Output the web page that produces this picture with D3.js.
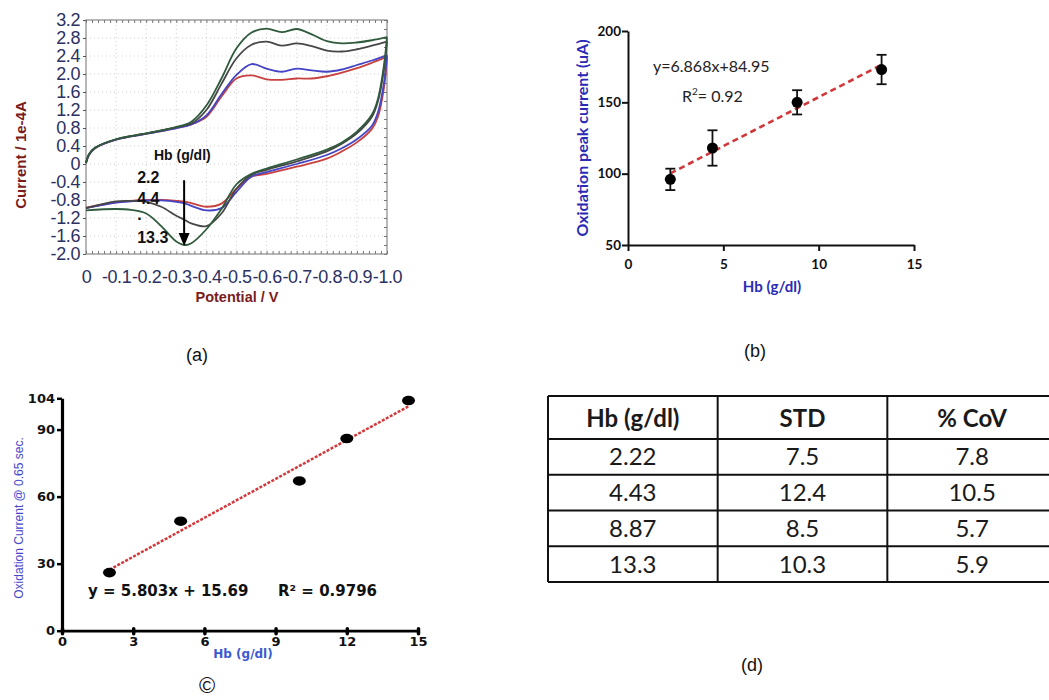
<html>
<script src='https://d3js.org/d3.v7.min.js'></script>
<style>
    body { margin: 0; background: white; }
    text { font-family: 'Liberation Sans', Arial, sans-serif; }
</style>

<body onload='init()'>
    <svg width=1049 height=700></svg>
    <script>
        // (a) cyclic voltammograms, potential in V, current in 1e-4 A
        const fwdPotential = [0, -0.01, -0.03, -0.1, -0.2, -0.3, -0.35, -0.4, -0.45, -0.5, -0.55, -0.6, -0.65, -0.7, -0.75, -0.8, -0.85, -0.9, -0.95, -1.0];
        const fwdRed = [0.02, 0.2, 0.35, 0.54, 0.67, 0.8, 0.88, 1.05, 1.5, 1.9, 1.97, 1.88, 1.87, 1.9, 1.9, 1.95, 2.03, 2.13, 2.25, 2.38];
        const fwdBlue = [0.02, 0.2, 0.35, 0.54, 0.67, 0.8, 0.88, 1.08, 1.55, 1.98, 2.22, 2.12, 2.05, 2.12, 2.08, 2.05, 2.1, 2.2, 2.3, 2.42];
        const fwdBlack = [0.02, 0.22, 0.36, 0.55, 0.68, 0.82, 0.9, 1.2, 1.78, 2.35, 2.65, 2.72, 2.63, 2.68, 2.62, 2.52, 2.5, 2.55, 2.63, 2.72];
        const fwdGreen = [0.02, 0.22, 0.36, 0.55, 0.68, 0.82, 0.94, 1.3, 1.9, 2.57, 2.92, 3.01, 2.93, 3.0, 2.88, 2.73, 2.68, 2.7, 2.75, 2.82];

        const revPotential = [-1.0, -0.99, -0.97, -0.95, -0.9, -0.85, -0.8, -0.7, -0.6, -0.55, -0.5, -0.45, -0.4, -0.35, -0.33, -0.3, -0.25, -0.2, -0.15, -0.1, 0];
        const revRed = [2.38, 1.7, 1.05, 0.78, 0.48, 0.28, 0.12, -0.06, -0.22, -0.28, -0.55, -0.88, -0.95, -0.87, -0.84, -0.82, -0.8, -0.8, -0.82, -0.85, -0.97];
        const revBlue = [2.42, 1.8, 1.15, 0.85, 0.55, 0.35, 0.2, 0.0, -0.18, -0.28, -0.62, -0.98, -1.03, -0.93, -0.88, -0.84, -0.81, -0.81, -0.83, -0.86, -0.98];
        const revBlack = [2.72, 2.1, 1.4, 1.05, 0.68, 0.45, 0.28, 0.06, -0.13, -0.24, -0.55, -1.1, -1.38, -1.32, -1.25, -1.15, -0.95, -0.84, -0.82, -0.83, -0.98];
        const revGreen = [2.82, 2.2, 1.45, 1.1, 0.72, 0.48, 0.32, 0.1, -0.1, -0.22, -0.45, -1.0, -1.45, -1.76, -1.8, -1.72, -1.38, -1.1, -1.02, -1.0, -1.03];

        const cvTicksY = [3.2, 2.8, 2.4, 2.0, 1.6, 1.2, 0.8, 0.4, 0, -0.4, -0.8, -1.2, -1.6, -2.0];
        const cvTicksX = [0, -0.1, -0.2, -0.3, -0.4, -0.5, -0.6, -0.7, -0.8, -0.9, -1.0];
        const cvLabels = ['2.2', '4.4', '.', '13.3'];

        // (b) oxidation peak current vs Hb
        const hbB = [2.22, 4.43, 8.87, 13.3];
        const peakB = [96, 118, 150, 173];
        const stdB = [7.5, 12.4, 8.5, 10.3];
        const fitB = [6.868, 84.95];

        // (c) oxidation current @ 0.65 s vs Hb
        const hbC = [2, 5, 10, 12, 14.6];
        const currentC = [26, 49, 67, 86, 103];
        const fitC = [5.803, 15.69];

        // (d) table
        const tableHead = ['Hb (g/dl)', 'STD', '% CoV'];
        const tableHb = ['2.22', '4.43', '8.87', '13.3'];
        const tableStd = ['7.5', '12.4', '8.5', '10.3'];
        const tableCov = ['7.8', '10.5', '5.7', '5.9'];

        const SANS = "'Liberation Sans', Arial, sans-serif";
        const WIDE = "'DejaVu Sans', Verdana, sans-serif";
        const CAL = "Lato, 'Open Sans', sans-serif";

        function init() {
            const svg = d3.select('svg');
            svg.append('rect').attr('width', 1049).attr('height', 700).attr('fill', 'white');

            // ---------- (a) ----------
            const xA = d3.scaleLinear().domain([0, -1]).range([86, 387]);
            const yA = d3.scaleLinear().domain([-2, 3.2]).range([254, 20]);
            const gA = svg.append('g');

            gA.append('g').selectAll('line').data(cvTicksX.slice(1, -1)).join('line')
                .attr('x1', d => xA(d)).attr('x2', d => xA(d))
                .attr('y1', yA(-2)).attr('y2', yA(3.2))
                .attr('stroke', '#cfcfcf').attr('stroke-dasharray', '1,3');
            gA.append('g').selectAll('line').data(cvTicksY.slice(1, -1)).join('line')
                .attr('x1', xA(0)).attr('x2', xA(-1))
                .attr('y1', d => yA(d)).attr('y2', d => yA(d))
                .attr('stroke', '#cfcfcf').attr('stroke-dasharray', '1,3');

            gA.append('rect')
                .attr('x', xA(0)).attr('y', yA(3.2))
                .attr('width', xA(-1) - xA(0)).attr('height', yA(-2) - yA(3.2))
                .attr('fill', 'none').attr('stroke', '#707070');

            // minor ticks on the frame
            const minorX = d3.range(0, 51).map(i => -i / 50);
            const minorY = d3.range(0, 27).map(i => -2 + i * 0.2);
            gA.append('g').attr('transform', 'translate(0,' + yA(-2) + ')')
                .call(d3.axisBottom(xA).tickValues(minorX).tickSize(-3).tickFormat(''))
                .call(g => g.select('.domain').remove());
            gA.append('g').attr('transform', 'translate(0,' + yA(3.2) + ')')
                .call(d3.axisTop(xA).tickValues(minorX).tickSize(-3).tickFormat(''))
                .call(g => g.select('.domain').remove());
            gA.append('g').attr('transform', 'translate(' + xA(-1) + ',0)')
                .call(d3.axisRight(yA).tickValues(minorY).tickSize(-3).tickFormat(''))
                .call(g => g.select('.domain').remove());
            gA.selectAll('.tick line').attr('stroke', '#777');

            const axA = gA.append('g').attr('transform', 'translate(' + xA(0) + ',0)')
                .call(d3.axisLeft(yA).tickValues(cvTicksY).tickSize(3).tickPadding(3)
                    .tickFormat(d => d === 0 ? '0' : d.toFixed(1)));
            axA.select('.domain').remove();
            const axAx = gA.append('g').attr('transform', 'translate(0,' + yA(-2) + ')')
                .call(d3.axisBottom(xA).tickValues(cvTicksX).tickSize(0).tickPadding(16)
                    .tickFormat(d => d === 0 ? '0' : d.toFixed(1)));
            axAx.select('.domain').remove();
            [axA, axAx].forEach(a => {
                a.selectAll('line').attr('stroke', '#555');
                a.selectAll('text').style('font-family', SANS).style('font-size', '18px')
                    .style('letter-spacing', '-0.4px').attr('fill', '#2b3162');
            });

            const line = d3.line().x(d => xA(d[0])).y(d => yA(d[1])).curve(d3.curveCatmullRom.alpha(0.5));
            const cvSeries = [
                { color: '#c8413f', f: fwdRed, r: revRed },
                { color: '#4444c4', f: fwdBlue, r: revBlue },
                { color: '#474747', f: fwdBlack, r: revBlack },
                { color: '#2f5a3c', f: fwdGreen, r: revGreen }
            ];
            cvSeries.forEach(s => {
                gA.append('path').datum(fwdPotential.map((v, i) => [v, s.f[i]]))
                    .attr('d', line).attr('fill', 'none').attr('stroke', s.color).attr('stroke-width', 1.8);
                gA.append('path').datum(revPotential.map((v, i) => [v, s.r[i]]))
                    .attr('d', line).attr('fill', 'none').attr('stroke', s.color).attr('stroke-width', 1.8);
            });

            // annotations
            gA.append('text').attr('x', xA(-0.32)).attr('y', yA(0.1)).attr('text-anchor', 'middle')
                .style('font-size', '14px').style('font-weight', 'bold').attr('fill', '#111').text('Hb (g/dl)');
            gA.selectAll('.lab').data(cvLabels).join('text')
                .attr('x', xA(-0.17))
                .attr('y', (d, i) => yA([-0.43, -0.88, -1.25, -1.75][i]))
                .style('font-size', '16px').style('font-weight', 'bold').attr('fill', '#111').text(d => d);
            gA.append('line').attr('x1', xA(-0.326)).attr('x2', xA(-0.326))
                .attr('y1', yA(-0.36)).attr('y2', yA(-1.6))
                .attr('stroke', '#000').attr('stroke-width', 2);
            const tipX = xA(-0.326), tipY = yA(-1.82);
            gA.append('path')
                .attr('d', 'M' + (tipX - 5.5) + ',' + (tipY - 13) + 'L' + (tipX + 5.5) + ',' + (tipY - 13) + 'L' + tipX + ',' + tipY + 'Z')
                .attr('fill', '#000');

            gA.append('text').attr('transform', 'translate(26,155) rotate(-90)').attr('text-anchor', 'middle')
                .style('font-size', '15px').style('font-weight', 'bold').attr('fill', '#7a1c1c')
                .text('Current / 1e-4A');
            gA.append('text').attr('x', 237).attr('y', 302).attr('text-anchor', 'middle')
                .style('font-size', '14.5px').style('font-weight', 'bold').attr('fill', '#7a1c1c')
                .text('Potential / V');

            // ---------- (b) ----------
            const xB = d3.scaleLinear().domain([0, 15]).range([628, 914]);
            const yB = d3.scaleLinear().domain([50, 200]).range([245, 31]);
            const gB = svg.append('g');
            const axBy = gB.append('g').attr('transform', 'translate(' + xB(0) + ',0)')
                .call(d3.axisLeft(yB).tickValues([50, 100, 150, 200]).tickSize(6).tickSizeOuter(0));
            const axBx = gB.append('g').attr('transform', 'translate(0,' + yB(50) + ')')
                .call(d3.axisBottom(xB).tickValues([0, 5, 10, 15]).tickSize(6).tickSizeOuter(0).tickPadding(8));
            [axBy, axBx].forEach(a => {
                a.selectAll('path, line').attr('stroke', '#111').attr('stroke-width', 2);
                a.selectAll('text').style('font-family', CAL)
                    .style('font-size', '13.5px').style('font-weight', 'bold').attr('fill', '#111');
            });
            axBy.selectAll('text').attr('x', -7);

            gB.append('line')
                .attr('x1', xB(hbB[0])).attr('y1', yB(fitB[0] * hbB[0] + fitB[1]))
                .attr('x2', xB(hbB[3])).attr('y2', yB(fitB[0] * hbB[3] + fitB[1]))
                .attr('stroke', '#d0373a').attr('stroke-width', 2.6).attr('stroke-dasharray', '6,4');
            const errB = gB.append('g').selectAll('g').data(hbB).join('g');
            errB.append('line').attr('x1', d => xB(d)).attr('x2', d => xB(d))
                .attr('y1', (d, i) => yB(peakB[i] - stdB[i])).attr('y2', (d, i) => yB(peakB[i] + stdB[i]))
                .attr('stroke', '#111').attr('stroke-width', 1.8);
            [-1, 1].forEach(s => {
                errB.append('line').attr('x1', d => xB(d) - 5).attr('x2', d => xB(d) + 5)
                    .attr('y1', (d, i) => yB(peakB[i] + s * stdB[i])).attr('y2', (d, i) => yB(peakB[i] + s * stdB[i]))
                    .attr('stroke', '#111').attr('stroke-width', 1.8);
            });
            errB.append('circle').attr('cx', d => xB(d)).attr('cy', (d, i) => yB(peakB[i])).attr('r', 5.5).attr('fill', '#000');

            gB.append('text').attr('x', 653).attr('y', 72)
                .style('font-family', CAL).style('font-size', '16px').attr('fill', '#222')
                .text('y=6.868x+84.95');
            const r2 = gB.append('text').attr('x', 682).attr('y', 102)
                .style('font-family', CAL).style('font-size', '16px').attr('fill', '#222');
            r2.append('tspan').text('R');
            r2.append('tspan').attr('dy', -7).style('font-size', '10px').text('2');
            r2.append('tspan').attr('dy', 7).text('= 0.92');

            gB.append('text').attr('transform', 'translate(588,138) rotate(-90)').attr('text-anchor', 'middle')
                .style('font-family', CAL).style('font-size', '16px')
                .style('font-weight', 'bold').attr('fill', '#2a2ab4').text('Oxidation peak current (uA)');
            gB.append('text').attr('x', 772).attr('y', 292).attr('text-anchor', 'middle')
                .style('font-family', CAL).style('font-size', '15px')
                .style('font-weight', 'bold').attr('fill', '#2a2ab4').text('Hb (g/dl)');

            // ---------- (c) ----------
            const xC = d3.scaleLinear().domain([0, 15]).range([62, 418]);
            const yC = d3.scaleLinear().domain([0, 104]).range([630.7, 398.3]);
            const gC = svg.append('g');
            const axCy = gC.append('g').attr('transform', 'translate(' + xC(0) + ',0)')
                .call(d3.axisLeft(yC).tickValues([0, 30, 60, 90, 104]).tickSize(5).tickSizeOuter(0).tickPadding(2));
            axCy.select('.domain').attr('stroke-width', 3.2);
            axCy.selectAll('line').attr('stroke-width', 2.5);
            const axCx = gC.append('g').attr('transform', 'translate(0,' + yC(0) + ')')
                .call(d3.axisBottom(xC).tickValues([0, 3, 6, 9, 12, 15]).tickSize(3).tickSizeOuter(0).tickPadding(3));
            axCx.select('.domain').attr('stroke-width', 2.8);
            axCx.selectAll('line').attr('stroke-width', 3.5).attr('stroke-linecap', 'round').attr('y1', -2);
            [axCy, axCx].forEach(a => {
                a.selectAll('path, line').attr('stroke', '#000');
                a.selectAll('text').style('font-family', WIDE).style('font-size', '13px')
                    .style('font-weight', 'bold').attr('fill', '#111');
            });

            gC.append('line')
                .attr('x1', xC(hbC[0])).attr('y1', yC(fitC[0] * hbC[0] + fitC[1]))
                .attr('x2', xC(hbC[4])).attr('y2', yC(fitC[0] * hbC[4] + fitC[1]))
                .attr('stroke', '#d3393b').attr('stroke-width', 2.5).attr('stroke-dasharray', '3,1.5');
            gC.append('g').selectAll('ellipse').data(hbC).join('ellipse')
                .attr('cx', d => xC(d)).attr('cy', (d, i) => yC(currentC[i]))
                .attr('rx', 6.5).attr('ry', 4.8).attr('fill', '#000');

            gC.append('text').attr('x', 88).attr('y', 596)
                .style('font-family', WIDE).style('font-size', '15px').style('font-weight', 'bold').attr('fill', '#111')
                .text('y = 5.803x + 15.69');
            gC.append('text').attr('x', 278).attr('y', 596)
                .style('font-family', WIDE).style('font-size', '15px').style('font-weight', 'bold').attr('fill', '#111')
                .text('R² = 0.9796');
            gC.append('text').attr('transform', 'translate(23,518) rotate(-90)').attr('text-anchor', 'middle')
                .style('font-size', '12px').attr('fill', '#4646cc').text('Oxidation Current @ 0.65 sec.');
            gC.append('text').attr('x', 243).attr('y', 658).attr('text-anchor', 'middle')
                .style('font-family', WIDE).style('font-size', '12px').style('font-weight', 'bold')
                .attr('fill', '#3a5ad2').text('Hb (g/dl)');

            // ---------- (d) table ----------
            const gD = svg.append('g');
            const colX = d3.scaleBand().domain([0, 1, 2]).range([548, 1057]);
            const rowY = d3.scaleBand().domain([0, 1, 2, 3]).range([439, 582]);
            const cols = [tableHb, tableStd, tableCov];
            gD.selectAll('.head').data(tableHead).join('text')
                .attr('x', (d, i) => colX(i) + colX.bandwidth() / 2).attr('y', 427)
                .attr('text-anchor', 'middle')
                .style('font-family', CAL).style('font-size', '24px')
                .style('font-weight', 'bold').attr('fill', '#1a1a1a').text(d => d);
            cols.forEach((col, c) => {
                gD.append('g').selectAll('text').data(col).join('text')
                    .attr('x', colX(c) + colX.bandwidth() / 2)
                    .attr('y', (d, i) => rowY(i) + rowY.bandwidth() / 2 + 8.5)
                    .attr('text-anchor', 'middle')
                    .style('font-family', CAL).style('font-size', '24px')
                    .attr('fill', '#1a1a1a').text(d => d);
            });
            const hLines = [396, 439].concat(rowY.domain().map(i => rowY(i) + rowY.bandwidth()));
            gD.selectAll('.h').data(hLines).join('line')
                .attr('x1', 548).attr('x2', 1057).attr('y1', d => d).attr('y2', d => d)
                .attr('stroke', '#111').attr('stroke-width', 2);
            gD.selectAll('.v').data([0, 1, 2]).join('line')
                .attr('x1', d => colX(d)).attr('x2', d => colX(d))
                .attr('y1', 396).attr('y2', 582)
                .attr('stroke', '#111').attr('stroke-width', 2);

            // panel letters
            const letters = [['(a)', 197, 361], ['(b)', 755, 357], ['(d)', 752, 671], ['©', 207, 693]];
            svg.selectAll('.letter').data(letters).join('text')
                .attr('x', d => d[1]).attr('y', d => d[2]).attr('text-anchor', 'middle')
                .style('font-size', d => d[0] === '©' ? '22px' : '18px').attr('fill', '#111').text(d => d[0]);
        }
    </script>
</body>

</html>
